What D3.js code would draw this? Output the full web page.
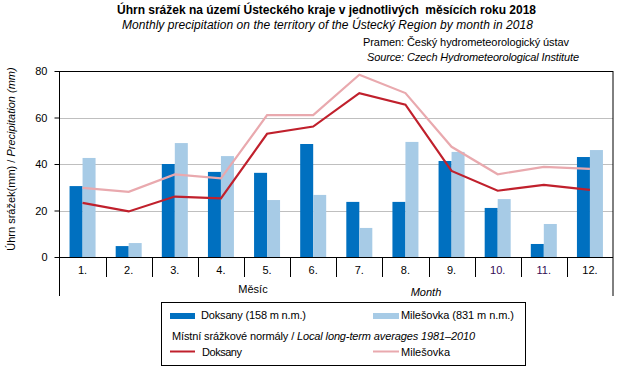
<!DOCTYPE html>
<html><head><meta charset="utf-8">
<script src="https://cdn.jsdelivr.net/npm/d3@7"></script>
<style>body{margin:0;background:#fff}svg{font-family:"Liberation Sans",Arial,sans-serif}</style>
</head><body><svg id="c" width="629" height="380"></svg>
<script>
const months = ["1.","2.","3.","4.","5.","6.","7.","8.","9.","10.","11.","12."];
const doksany = [30.5,4.7,40.0,36.6,36.2,48.6,23.7,23.7,41.3,21.1,5.6,43.0];
const milesovka = [42.6,6.0,49.0,43.4,24.5,26.7,12.5,49.5,45.2,24.9,14.2,46.0];
const normDoksany = [23.3,19.6,26.0,25.2,53.0,56.1,70.5,65.5,37.0,28.5,31.0,28.9];
const normMilesovka = [29.7,28.0,35.5,33.8,61.0,61.0,78.4,70.5,47.4,35.6,38.8,37.9];
const yTicks = [0,20,40,60,80];

const svg = d3.select("#c");
const L=59.5, R=613, T=71, B=257;
const x = d3.scaleBand().domain(months).range([L,R]);
const y = d3.scaleLinear().domain([0,80]).range([B,T]);
const bw = 13;
const cDok="#0070C0", cMil="#A7CBE6", nDok="#C0202C", nMil="#E9A9AE";

function txt(xp, yp, s, len, opts={}) {
  const t = svg.append("text").attr("x",xp).attr("y",yp).attr("font-size",opts.size||"11px");
  if (opts.italic) t.attr("font-style","italic");
  if (opts.bold) t.attr("font-weight","bold");
  if (len) t.attr("textLength",len).attr("lengthAdjust","spacing");
  t.text(s);
  return t;
}

// gridlines
svg.append("g").selectAll("line").data([20,40,60]).join("line")
  .attr("x1",L).attr("x2",R).attr("y1",d=>Math.round(y(d))+0.5).attr("y2",d=>Math.round(y(d))+0.5)
  .attr("stroke","#BFBFBF").attr("stroke-width",1);

// bars
svg.append("g").selectAll("rect").data(doksany).join("rect")
  .attr("x",(d,i)=>x(months[i])+x.bandwidth()/2-bw).attr("width",bw)
  .attr("y",d=>y(d)).attr("height",d=>B-y(d)).attr("fill",cDok);
svg.append("g").selectAll("rect").data(milesovka).join("rect")
  .attr("x",(d,i)=>x(months[i])+x.bandwidth()/2).attr("width",bw)
  .attr("y",d=>y(d)).attr("height",d=>B-y(d)).attr("fill",cMil);

// lines
const line = d3.line().x((d,i)=>x(months[i])+x.bandwidth()/2).y(d=>y(d));
svg.append("path").datum(normMilesovka).attr("d",line).attr("fill","none").attr("stroke",nMil).attr("stroke-width",2.2);
svg.append("path").datum(normDoksany).attr("d",line).attr("fill","none").attr("stroke",nDok).attr("stroke-width",2.2);

// frame
svg.append("line").attr("x1",L).attr("x2",R).attr("y1",T+0.5).attr("y2",T+0.5).attr("stroke","#000");
svg.append("line").attr("x1",L).attr("x2",L).attr("y1",T).attr("y2",296).attr("stroke","#000");
svg.append("line").attr("x1",R).attr("x2",R).attr("y1",T).attr("y2",296).attr("stroke","#000");
svg.append("line").attr("x1",L).attr("x2",R).attr("y1",B+0.5).attr("y2",B+0.5).attr("stroke","#000");

// y axis
const ya = svg.append("g").attr("transform",`translate(${L},0)`)
  .call(d3.axisLeft(y).tickValues(yTicks).tickSize(5).tickPadding(7));
ya.select(".domain").remove();
ya.selectAll("text").attr("font-size","11px").attr("fill","#000").attr("font-family","Liberation Sans, Arial");
ya.selectAll("line").attr("stroke","#000");

// x ticks separators
svg.append("g").selectAll("line").data(months.slice(1)).join("line")
  .attr("x1",d=>Math.round(x(d))+0.5).attr("x2",d=>Math.round(x(d))+0.5).attr("y1",B).attr("y2",277).attr("stroke","#000");
svg.append("g").selectAll("text").data(months).join("text")
  .attr("x",d=>x(d)+x.bandwidth()/2).attr("y",274).attr("text-anchor","middle")
  .attr("font-size","11px").attr("fill",d=>(d==="10."||d==="11.")?"#330A55":"#000").text(d=>d);

// axis titles
svg.append("text").attr("x",253).attr("y",293).attr("text-anchor","middle").attr("font-size","11px").text("Měsíc");
svg.append("text").attr("x",426).attr("y",296).attr("text-anchor","middle").attr("font-size","11px").attr("font-style","italic").text("Month");
const yt = svg.append("text").attr("transform","translate(15,159) rotate(-90)").attr("text-anchor","middle").attr("font-size","11px");
yt.append("tspan").text("Úhrn srážek(mm) / ");
yt.append("tspan").attr("font-style","italic").text("Precipitation (mm)");

// titles
txt(117,14,"Úhrn srážek na území Ústeckého kraje v jednotlivých  měsících roku 2018",419,{size:"12px",bold:true}).attr("xml:space","preserve");
txt(122,29,"Monthly precipitation on the territory of the Ústecký Region by month in 2018",411,{size:"12px",italic:true});
txt(363,46,"Pramen: Český hydrometeorologický ústav",206);
txt(367,61,"Source: Czech Hydrometeorological Institute",212,{italic:true});

// legend
svg.append("rect").attr("x",161.5).attr("y",302.5).attr("width",364).attr("height",63).attr("fill","#fff").attr("stroke","#000");
svg.append("rect").attr("x",170).attr("y",313).attr("width",25).attr("height",6).attr("fill",cDok);
txt(201,319,"Doksany (158 m n.m.)",105);
svg.append("rect").attr("x",373).attr("y",313).attr("width",26).attr("height",6).attr("fill",cMil);
txt(401,319,"Milešovka (831 m n.m.)",113);
const lt = svg.append("text").attr("x",172).attr("y",340).attr("font-size","11px").attr("textLength",303).attr("lengthAdjust","spacing");
lt.append("tspan").text("Místní srážkové normály / ");
lt.append("tspan").attr("font-style","italic").text("Local long-term averages 1981–2010");
svg.append("line").attr("x1",170).attr("x2",195).attr("y1",351.5).attr("y2",351.5).attr("stroke",nDok).attr("stroke-width",2);
txt(202,356,"Doksany",40);
svg.append("line").attr("x1",373).attr("x2",399).attr("y1",351.5).attr("y2",351.5).attr("stroke",nMil).attr("stroke-width",2);
txt(401,356,"Milešovka",49);
</script></body></html>
